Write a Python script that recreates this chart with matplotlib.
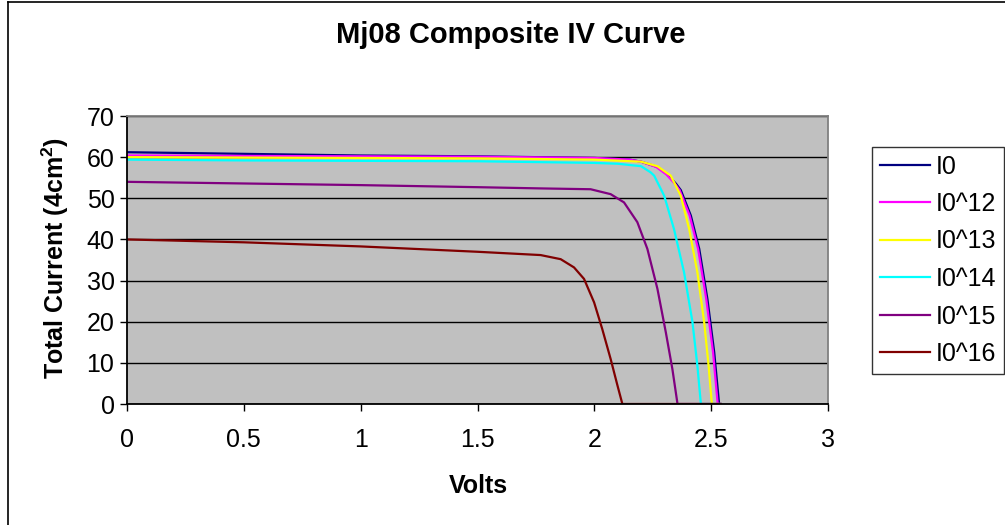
import matplotlib.pyplot as plt
from matplotlib.lines import Line2D

plt.rcParams['font.family'] = ['Liberation Sans', 'DejaVu Sans']
plt.rcParams['mathtext.fontset'] = 'custom'
plt.rcParams['mathtext.rm'] = 'Liberation Sans'
plt.rcParams['mathtext.bf'] = 'Liberation Sans:bold'

# I-V curves (volts, current)
v_i0 = [0, 0.5, 1.0, 1.5, 2.0, 2.15, 2.2, 2.27, 2.313, 2.35, 2.37, 2.413, 2.449, 2.484, 2.513, 2.534, 2.54]
i_i0 = [61.2, 60.8, 60.4, 60.2, 59.8, 59.4, 58.9, 57.6, 55.8, 53.5, 52.0, 45.8, 37.7, 25.5, 12.6, 0.0, 0.0]

v_i12 = [0, 0.5, 1.0, 1.5, 2.0, 2.15, 2.2, 2.265, 2.308, 2.345, 2.365, 2.408, 2.444, 2.479, 2.508, 2.528, 2.54]
i_i12 = [60.4, 60.3, 60.2, 60.1, 59.8, 59.4, 58.9, 57.6, 55.8, 53.5, 52.0, 45.8, 37.7, 25.5, 12.6, 0.0, 0.0]

v_i13 = [0, 0.5, 1.0, 1.5, 2.0, 2.2, 2.27, 2.327, 2.37, 2.406, 2.441, 2.47, 2.489, 2.503, 2.54]
i_i13 = [60.0, 59.9, 59.8, 59.7, 59.4, 58.9, 57.8, 55.5, 50.6, 42.5, 32.0, 19.9, 9.3, 0.0, 0.0]

v_i14 = [0, 0.5, 1.0, 1.5, 2.0, 2.1, 2.2, 2.241, 2.256, 2.299, 2.341, 2.384, 2.42, 2.441, 2.456, 2.54]
i_i14 = [59.4, 59.2, 59.1, 59.0, 58.6, 58.4, 57.8, 56.3, 55.5, 50.6, 42.5, 32.0, 19.9, 9.3, 0.0, 0.0]

v_i15 = [0, 0.5, 1.0, 1.5, 1.77, 1.984, 2.07, 2.127, 2.184, 2.227, 2.27, 2.306, 2.334, 2.356, 2.54]
i_i15 = [54.0, 53.6, 53.2, 52.7, 52.4, 52.2, 51.0, 49.0, 44.2, 37.7, 28.0, 17.4, 8.5, 0.0, 0.0]

v_i16 = [0, 0.5, 1.0, 1.5, 1.77, 1.856, 1.913, 1.956, 1.999, 2.034, 2.07, 2.099, 2.12, 2.54]
i_i16 = [40.0, 39.3, 38.3, 37.0, 36.2, 35.2, 33.2, 30.4, 24.7, 18.2, 10.9, 4.5, 0.0, 0.0]

labels = ['I0', 'I0^12', 'I0^13', 'I0^14', 'I0^15', 'I0^16']
colors = ['#000080', '#FF00FF', '#FFFF00', '#00FFFF', '#800080', '#800000']
volts = [v_i0, v_i12, v_i13, v_i14, v_i15, v_i16]
currents = [i_i0, i_i12, i_i13, i_i14, i_i15, i_i16]

W, H = 1005, 525
fig = plt.figure(figsize=(W / 100, H / 100), dpi=100)
ax = fig.add_axes([127 / W, 1 - 404 / H, (828 - 127) / W, (404 - 116) / H])
ax.set_facecolor('#C0C0C0')

for v, i, c, lab in zip(volts, currents, colors, labels):
    ax.plot(v, i, color=c, lw=1.6, label=lab)

ax.set_xlim(0, 3)
ax.set_ylim(0, 70)
ax.set_xticks([0, 0.5, 1, 1.5, 2, 2.5, 3])
ax.set_xticklabels(['0', '0.5', '1', '1.5', '2', '2.5', '3'])
ax.set_yticks(range(0, 71, 10))
ax.yaxis.grid(True, color='black', lw=1)
ax.set_axisbelow(True)
ax.tick_params(direction='out', length=5, width=1, labelsize=18)
ax.tick_params(axis='x', pad=12.5)
ax.tick_params(axis='y', pad=4)

ax.spines['left'].set_color('black')
ax.spines['bottom'].set_color('black')
ax.spines['top'].set_color('#808080')
ax.spines['right'].set_color('#808080')
for s in ax.spines.values():
    s.set_linewidth(1.3)

fig.text(478 / W, 1 - 486 / H, 'Volts', fontsize=18, fontweight='bold', ha='center', va='center')
fig.text(55 / W, 1 - 258 / H, r'Total Current (4cm$^\mathbf{2}$)', fontsize=18, fontweight='bold',
         rotation=90, ha='center', va='center')
fig.text(511 / W, 1 - 43.3 / H, 'Mj08 Composite IV Curve', fontsize=21, fontweight='bold',
         ha='center', va='baseline')

leg = fig.legend(loc='upper left', bbox_to_anchor=(872 / W, 1 - 147 / H), fontsize=18,
                 frameon=True, fancybox=False, edgecolor='black', borderpad=0.3,
                 handlelength=2.0, handletextpad=0.25, labelspacing=0.54, borderaxespad=0)
leg.get_frame().set_linewidth(1)

# outer chart border
fig.add_artist(Line2D([8 / W, 8 / W], [0, 1 - 2 / H], color='black', lw=1.2))
fig.add_artist(Line2D([8 / W, 1], [1 - 2 / H, 1 - 2 / H], color='black', lw=1.2))

fig.savefig('out.png', dpi=100)
